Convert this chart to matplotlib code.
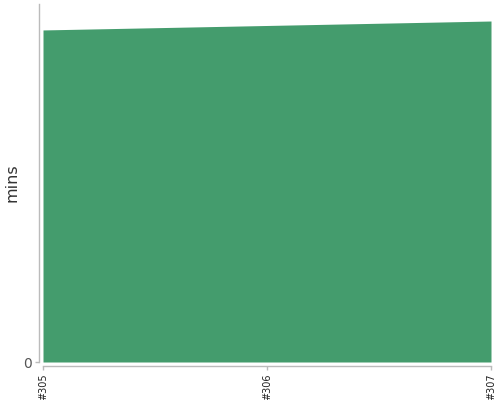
import matplotlib
matplotlib.use('Agg')
from matplotlib import pyplot as plt

# build numbers and their durations (mins)
builds = ['#305', '#306', '#307']
mins = [37.1, 37.6, 38.1]
y_top = 40

fig = plt.figure(figsize=(5, 4), dpi=100)
ax = fig.add_axes([43 / 500, 38 / 400, 448 / 500, 358 / 400])

# offset spines first, it resets the tick styling
for side in ['top', 'right']:
    ax.spines[side].set_visible(False)
for side in ['left', 'bottom']:
    ax.spines[side].set_color('#bbbbbb')
    ax.spines[side].set_linewidth(1)
    ax.spines[side].set_position(('outward', 3))

xs = list(range(len(builds)))
ax.fill_between(xs, 0, mins, color='#449c6d', linewidth=0)

ax.set_xlim(xs[0], xs[-1])
ax.set_ylim(0, y_top)

ax.set_xticks(xs)
ax.set_xticklabels(builds, rotation=90, fontsize=7, color='#222222', va='top')
ax.set_yticks([0])
ax.set_yticklabels(['0'], fontsize=10, color='#555555')
ax.tick_params(axis='both', length=3, width=1, color='#bbbbbb', pad=2)

ax.set_ylabel('mins', fontsize=11.5, color='#333333')
ax.yaxis.set_label_coords(-0.052, 0.5)

fig.savefig('out.png', dpi=100)
